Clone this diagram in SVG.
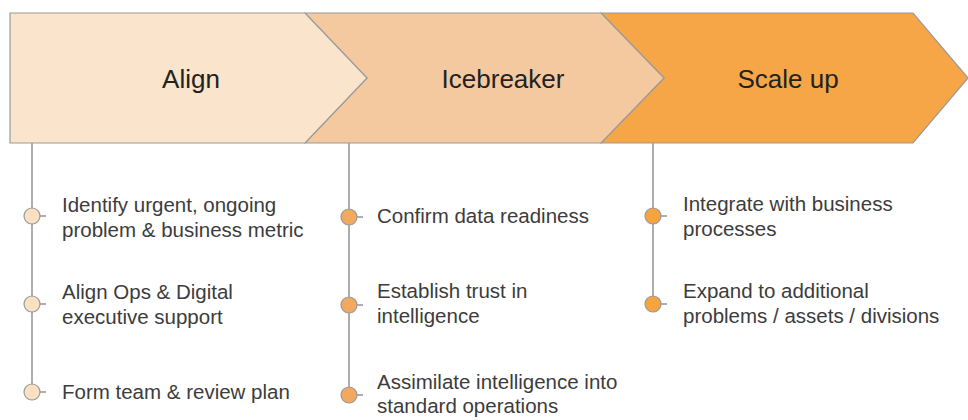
<svg xmlns="http://www.w3.org/2000/svg" width="968" height="420" viewBox="0 0 968 420">
<style>
.stage{stroke:#9a9a9a;stroke-width:1.2;stroke-linejoin:miter}
.hd{font-family:"Liberation Sans",Arial,sans-serif;font-size:26px;fill:#222;text-anchor:middle}
.it{font-family:"Liberation Sans",Arial,sans-serif;font-size:20.5px;fill:#3c3c3c}
.ln{stroke:#9a9a9a;stroke-width:1.6;fill:none}
.dot{stroke:#9a9a9a;stroke-width:1.2}
</style>
<rect width="968" height="420" fill="#fff"/>
<g id="connectors">
<line class="ln" x1="32" y1="143" x2="32" y2="392"/>
<line class="ln" x1="349" y1="143" x2="349" y2="395"/>
<line class="ln" x1="653" y1="143" x2="653" y2="304"/>
</g>
<g id="stage-scaleup">
<path class="stage" d="M601,13 L913,13 L968,78 L913,143 L601,143 L664,78 Z" fill="#f6a647"/>
<text class="hd" x="788" y="88">Scale up</text>
</g>
<g id="stage-icebreaker">
<path class="stage" d="M305,13 L601,13 L664,78 L601,143 L305,143 L367,78 Z" fill="#f5c9a0"/>
<text class="hd" x="503" y="88">Icebreaker</text>
</g>
<g id="stage-align">
<path class="stage" d="M10,13 L305,13 L367,78 L305,143 L10,143 Z" fill="#fae4cc"/>
<text class="hd" x="191" y="88">Align</text>
</g>
<g id="align-1">
<line class="ln" x1="40" y1="216" x2="46" y2="216"/>
<circle class="dot" cx="32" cy="216" r="8" fill="#fce0c2"/>
<text class="it" x="62" y="212">Identify urgent, ongoing</text>
<text class="it" x="62" y="237">problem &amp; business metric</text>
</g>
<g id="align-2">
<line class="ln" x1="40" y1="304" x2="46" y2="304"/>
<circle class="dot" cx="32" cy="304" r="8" fill="#fce0c2"/>
<text class="it" x="62" y="299">Align Ops &amp; Digital</text>
<text class="it" x="62" y="324">executive support</text>
</g>
<g id="align-3">
<line class="ln" x1="40" y1="392" x2="46" y2="392"/>
<circle class="dot" cx="32" cy="392" r="8" fill="#fce0c2"/>
<text class="it" x="62" y="399">Form team &amp; review plan</text>
</g>
<g id="ice-1">
<line class="ln" x1="357" y1="217" x2="363" y2="217"/>
<circle class="dot" cx="349" cy="217" r="8" fill="#f2a85e"/>
<text class="it" x="377" y="223">Confirm data readiness</text>
</g>
<g id="ice-2">
<line class="ln" x1="357" y1="305" x2="363" y2="305"/>
<circle class="dot" cx="349" cy="305" r="8" fill="#f2a85e"/>
<text class="it" x="377" y="298">Establish trust in</text>
<text class="it" x="377" y="323">intelligence</text>
</g>
<g id="ice-3">
<line class="ln" x1="357" y1="395" x2="363" y2="395"/>
<circle class="dot" cx="349" cy="395" r="8" fill="#f2a85e"/>
<text class="it" x="377" y="389">Assimilate intelligence into</text>
<text class="it" x="377" y="413">standard operations</text>
</g>
<g id="scale-1">
<line class="ln" x1="661" y1="216" x2="667" y2="216"/>
<circle class="dot" cx="653" cy="216" r="8" fill="#f6a43e"/>
<text class="it" x="683" y="211">Integrate with business</text>
<text class="it" x="683" y="236">processes</text>
</g>
<g id="scale-2">
<line class="ln" x1="661" y1="304" x2="667" y2="304"/>
<circle class="dot" cx="653" cy="304" r="8" fill="#f6a43e"/>
<text class="it" x="683" y="298">Expand to additional</text>
<text class="it" x="683" y="323">problems / assets / divisions</text>
</g>
</svg>
